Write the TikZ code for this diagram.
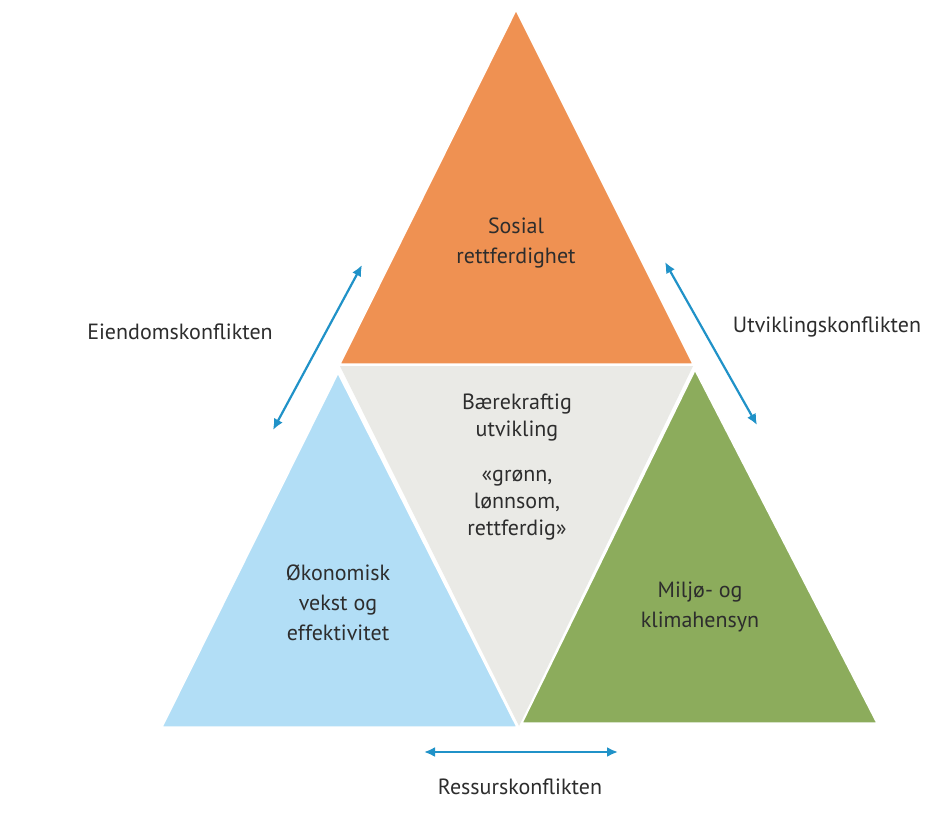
\documentclass[tikz,border=0pt]{standalone}
\usepackage{fontspec}
\setmainfont{PT Sans}
\usetikzlibrary{arrows.meta}
\definecolor{orangeF}{RGB}{239,145,82}
\definecolor{blueF}{RGB}{178,222,246}
\definecolor{greenF}{RGB}{140,172,92}
\definecolor{grayF}{RGB}{234,234,230}
\definecolor{arrowC}{RGB}{32,146,200}
\definecolor{txt}{RGB}{45,45,45}
\begin{document}
\begin{tikzpicture}[x=1pt,y=-1pt,
  lbl/.style={font=\fontsize{22}{30}\selectfont, text=txt, align=center, inner sep=0pt},
  lblmid/.style={font=\fontsize{22}{27}\selectfont, text=txt, align=center, inner sep=0pt},
  tri/.style={draw=white, line width=1.5pt, line join=miter},
  conn/.style={draw=arrowC, line width=2.2pt, {Latex[length=11pt,width=10pt]}-{Latex[length=11pt,width=10pt]}}]
\useasboundingbox[fill=white] (0,0) rectangle (932,820);

% triangles
\fill[grayF] (340,366) -- (693,366) -- (519,726) -- cycle;
\filldraw[tri, fill=orangeF] (340,364) -- (693,364) -- (516,10) -- cycle;
\filldraw[tri, fill=blueF] (338,373) -- (517,727) -- (162,727) -- cycle;
\filldraw[tri, fill=greenF] (695,370) -- (877,723) -- (522,723) -- cycle;

% labels
\node[lbl] (sos) at (516,243) {Sosial\\rettferdighet};
\node[lblmid] (bu) at (517,418) {Bærekraftig\\utvikling};
\node[lblmid] (glr) at (517,505) {«grønn,\\lønnsom,\\rettferdig»};
\node[lbl] (oko) at (338,603) {Økonomisk\\vekst og\\effektivitet};
\node[lbl] (mil) at (700,607) {Miljø- og\\klimahensyn};

\node[lbl] (eik) at (180,332) {Eiendomskonflikten};
\node[lbl] (utk) at (827,327) {Utviklingskonflikten};
\node[lbl] (rek) at (520,787) {Ressurskonflikten};

% arrow endpoints
\coordinate (l1) at (362,265);
\coordinate (l2) at (273,430);
\coordinate (r1) at (665,262);
\coordinate (r2) at (757,425);
\coordinate (b1) at (424,752);
\coordinate (b2) at (618,752);

\draw[conn] (l1) -- (l2);
\draw[conn] (r1) -- (r2);
\draw[conn] (b1) -- (b2);
\end{tikzpicture}
\end{document}
